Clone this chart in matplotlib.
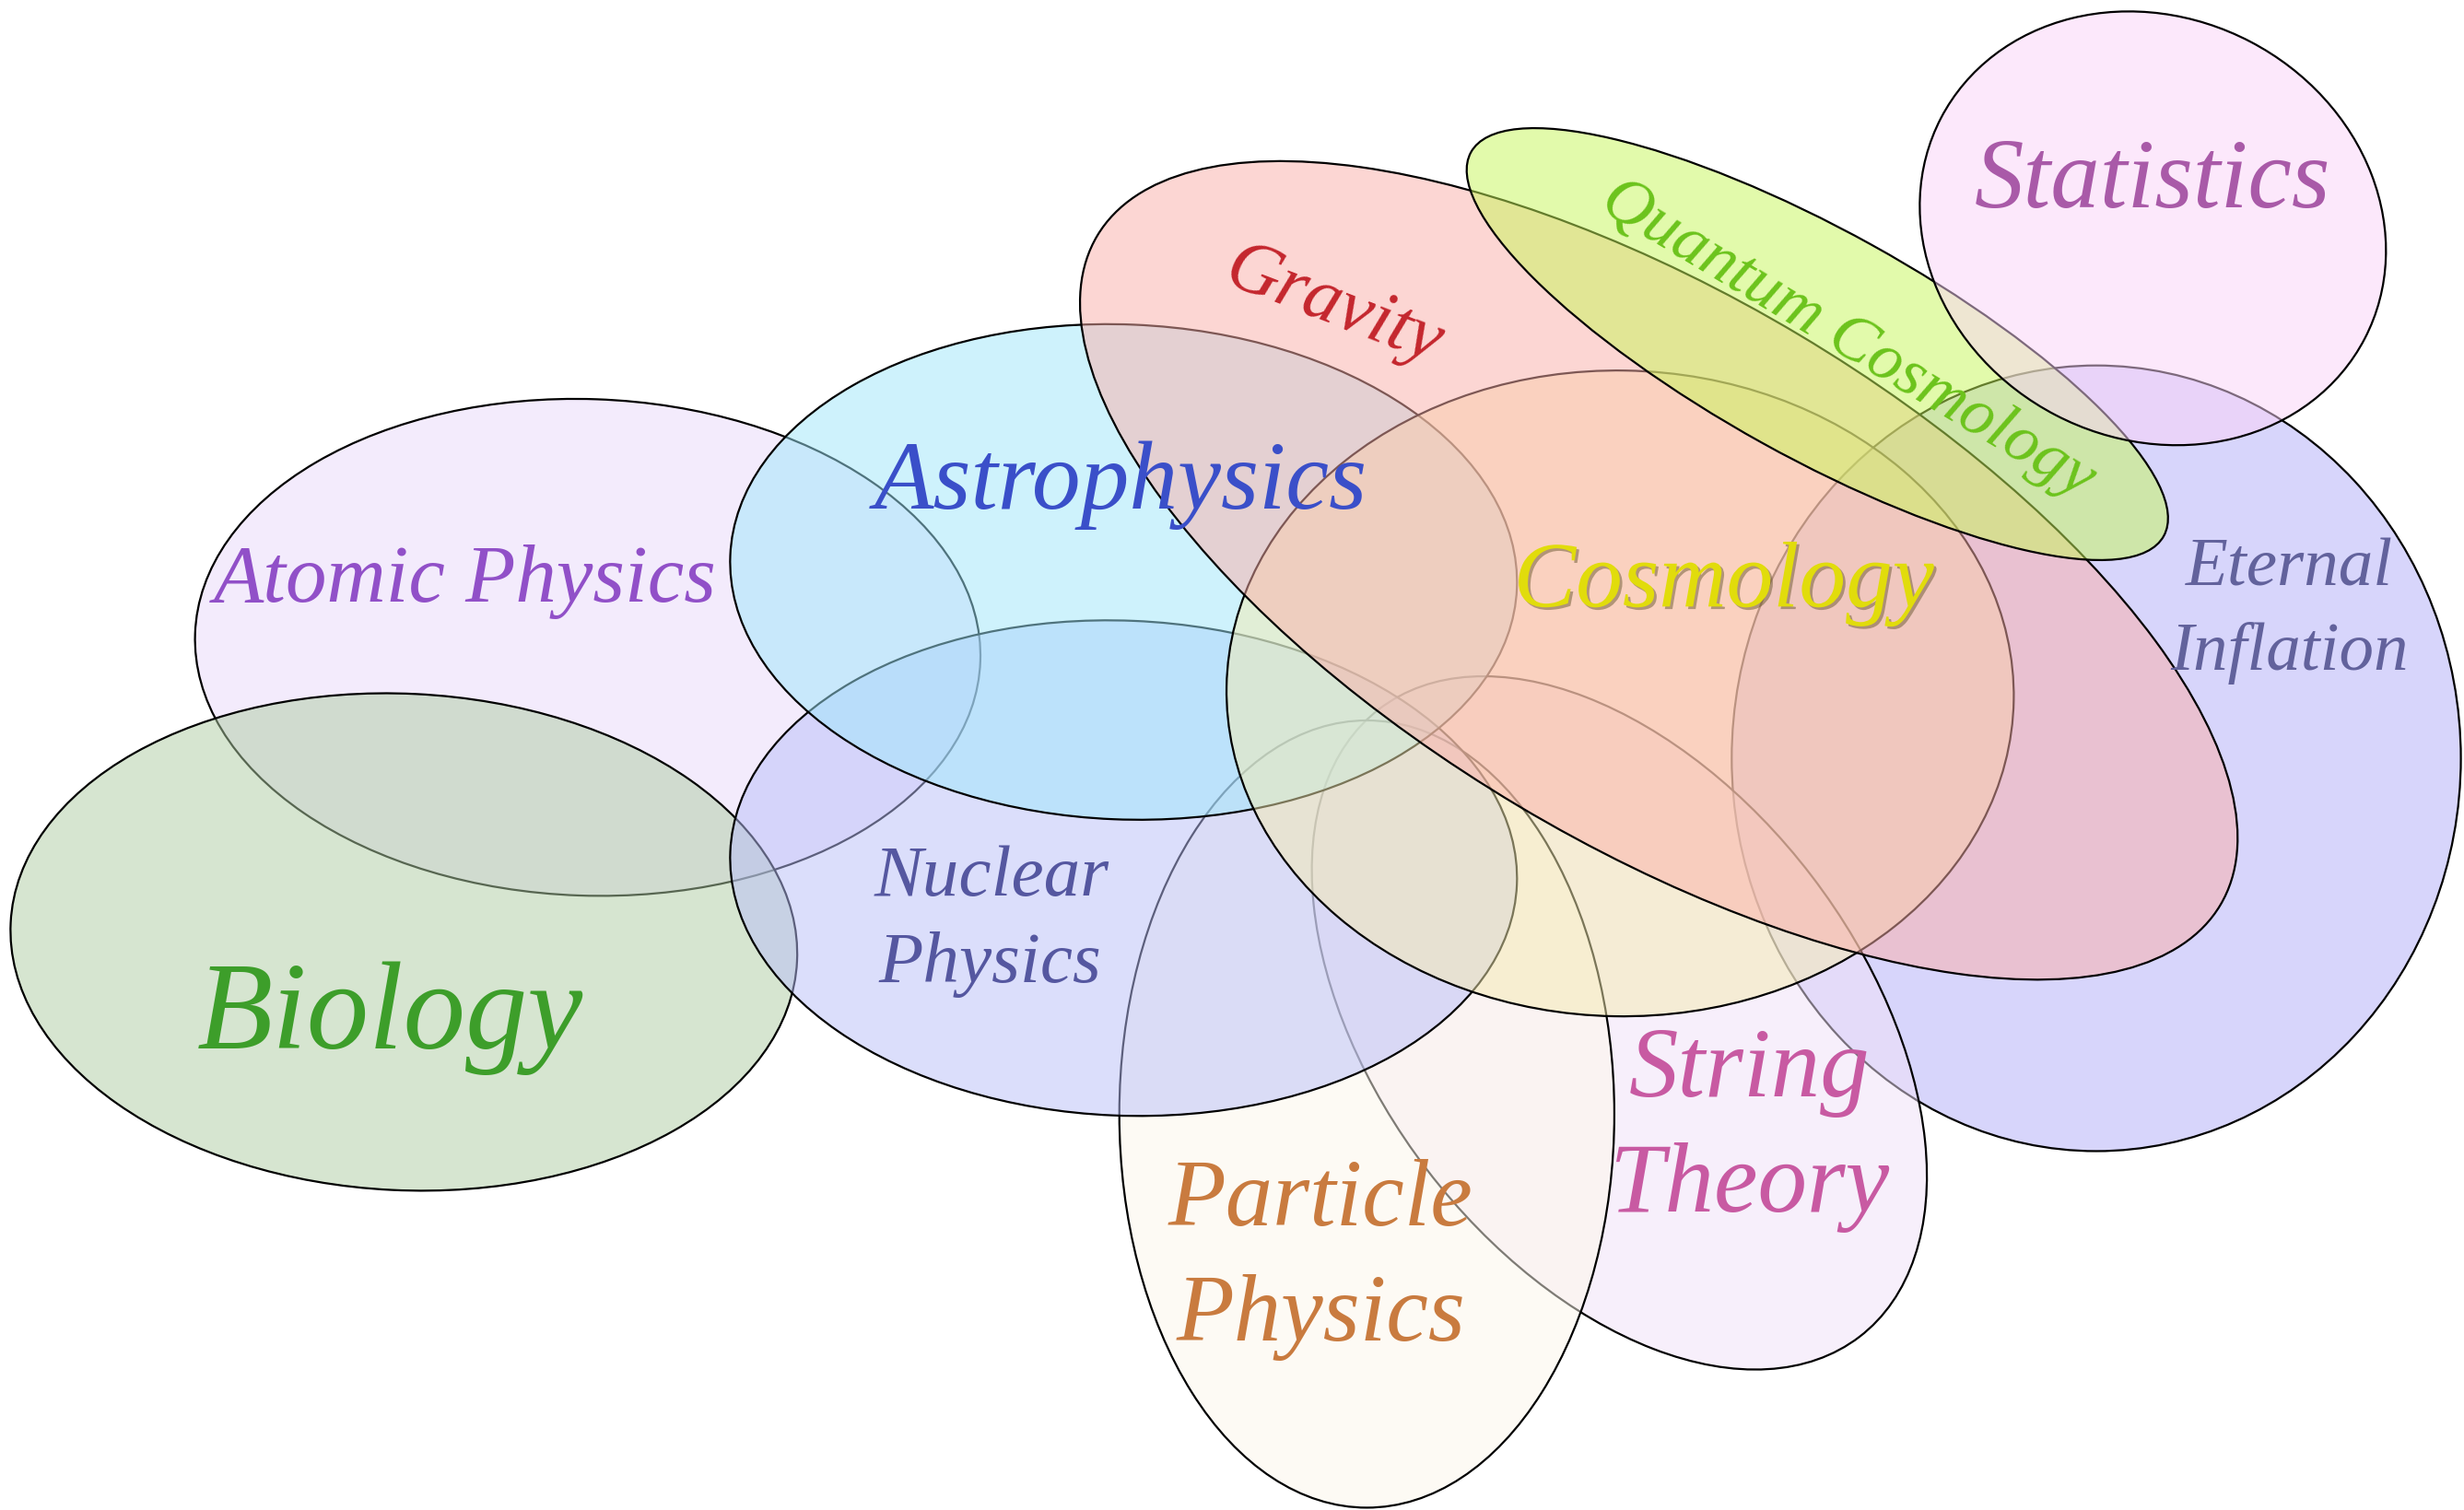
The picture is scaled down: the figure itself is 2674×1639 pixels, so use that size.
import matplotlib
matplotlib.use("Agg")
import matplotlib.pyplot as plt
from matplotlib.patches import Ellipse
import matplotlib.patheffects as pe
from matplotlib.colors import to_rgb
from matplotlib import font_manager as fm

# ---- data (reference units: 1568 x 961 canvas, y downwards) ----
names = ["Atomic Physics", "Biology", "Eternal Inflation", "String Theory",
         "Particle Physics", "Nuclear Physics", "Astrophysics", "Cosmology",
         "Gravity", "Quantum Cosmology", "Statistics"]
center_x = [374, 257, 1334, 1030.5, 869.8, 715, 715, 1031, 1055.6, 1156.5, 1370]
center_y = [412, 599.5, 482.6, 651, 709, 552.5, 364, 441.3, 363, 219, 145.3]
widths   = [500, 501, 464, 503, 315, 501, 501, 501, 832, 504, 304]
heights  = [316, 316, 500, 308, 501, 315, 315, 411, 349, 144, 268]
angles   = [2, 2.8, 0, 52.6, 0, 2.4, 2.4, 1, 30.8, 29, 27.5]
fill_colors = ["#f4ecfd", "#d7e6d1", "#d8d6fc", "#f8f0fc", "#fefbf5", "#dcdffc",
               "#cff3fd", "#faf5d8", "#fdd7d4", "#e3fbac", "#fde9fc"]
text_colors = ["#9150c8", "#3d9e2a", "#62629c", "#c85aa2", "#c97b3f", "#5557a0",
               "#3a4fc9", "#e1dc0b", "#c4262d", "#6cc31c", "#a95aa8"]

label_lines = [["Atomic Physics"], ["Biology"], ["Eternal", "Inflation"],
               ["String", "Theory"], ["Particle", "Physics"], ["Nuclear", "Physics"],
               ["Astrophysics"], ["Cosmology"], ["Gravity"], ["Quantum Cosmology"],
               ["Statistics"]]
label_x = [[296], [248], [1457, 1457], [1113.5, 1113], [840, 840.5], [631, 630],
           [713], [1097], [849], [1176], [1370]]
label_y = [[383], [667], [372.6, 426], [697.5, 771], [779.6, 853], [570, 625],
           [323.6], [386], [195], [216], [131.8]]
label_size = [64, 97, 54, 77, 74, 57, 76, 73, 58, 52, 77]
label_rot = [0, 0, 0, 0, 0, 0, 0, 0, -21, -31, 0]

ALPHA = 0.5

fig = plt.figure(figsize=(26.74, 16.39), dpi=100)
ax = fig.add_axes([0, 0, 1, 1])
ax.set_xlim(0, 1568)
ax.set_ylim(961, 0)
ax.axis("off")

for i in range(len(names)):
    app = to_rgb(fill_colors[i])
    base = tuple(min(1, max(0, 1 - (1 - c) / ALPHA)) for c in app)
    e = Ellipse((center_x[i], center_y[i]), widths[i], heights[i], angle=angles[i],
                facecolor=base + (ALPHA,), edgecolor="black", linewidth=1.6,
                zorder=i + 1)
    ax.add_patch(e)

# locate an italic serif font file
font_path = None
for famname in ["Liberation Serif", "DejaVu Serif"]:
    try:
        font_path = fm.findfont(fm.FontProperties(family=famname, style="italic"),
                                fallback_to_default=False)
        break
    except Exception:
        continue

for i in range(len(names)):
    effects = None
    if names[i] == "Cosmology":
        effects = [pe.SimplePatchShadow(offset=(2, -2), shadow_rgbFace="#5a4a20", alpha=0.45),
                   pe.Normal()]
    if font_path:
        fp = fm.FontProperties(fname=font_path, size=label_size[i])
    else:
        fp = fm.FontProperties(family="serif", style="italic", size=label_size[i])
    for line, x, y in zip(label_lines[i], label_x[i], label_y[i]):
        if label_rot[i] != 0:
            t = ax.text(x, y, line, ha="center", va="center", rotation=label_rot[i],
                        rotation_mode="anchor", fontproperties=fp, color=text_colors[i],
                        zorder=50)
        else:
            t = ax.text(x, y, line, ha="center", va="baseline", fontproperties=fp,
                        color=text_colors[i], zorder=50)
        if effects:
            t.set_path_effects(effects)

fig.savefig("out.png", dpi=100, facecolor="white")
